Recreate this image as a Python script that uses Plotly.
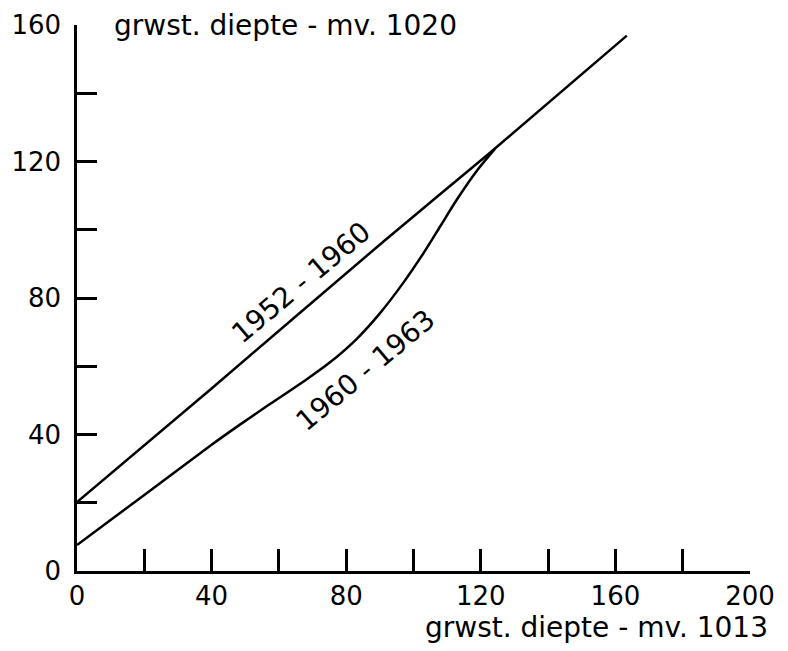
import plotly.graph_objects as go

# 1952 - 1960 relation (grwst. diepte - mv. 1013 vs 1020)
x_1952_1960 = [0, 40, 91, 123, 163.4]
y_1952_1960 = [20.2, 53.5, 96.5, 122.8, 156.9]

# 1960 - 1963 relation
x_1960_1963 = [0, 20, 40, 48, 57, 68, 75, 83, 90, 97, 103, 108, 113, 119, 124.2]
y_1960_1963 = [7.6, 22.3, 37, 42.6, 48.7, 56, 61, 67.9, 75.5, 84.5, 93.2, 101.1, 109, 117.5, 123.7]

x_ticks = [0, 20, 40, 60, 80, 100, 120, 140, 160, 180, 200]
x_tick_labels = ["0", "", "40", "", "80", "", "120", "", "160", "", "200"]
y_ticks = [0, 20, 40, 60, 80, 100, 120, 140, 160]
y_tick_labels = ["0", "", "40", "", "80", "", "120", "", "160"]

FONT = "DejaVu Sans"

fig = go.Figure()
fig.add_trace(go.Scatter(x=x_1952_1960, y=y_1952_1960, mode="lines",
                         line=dict(color="black", width=2.5, shape="spline", smoothing=0.6),
                         showlegend=False, hoverinfo="skip"))
fig.add_trace(go.Scatter(x=x_1960_1963, y=y_1960_1963, mode="lines",
                         line=dict(color="black", width=2.5, shape="spline", smoothing=0.8),
                         showlegend=False, hoverinfo="skip"))

fig.add_annotation(x=66.6, y=84.5, text="1952 - 1960", showarrow=False,
                   textangle=-40, font=dict(family=FONT, size=28, color="black"),
                   xanchor="center", yanchor="middle")
fig.add_annotation(x=85.6, y=58.9, text="1960 - 1963", showarrow=False,
                   textangle=-40, font=dict(family=FONT, size=28, color="black"),
                   xanchor="center", yanchor="middle")

fig.add_annotation(xref="paper", yref="y", x=0.052, y=160, text="grwst. diepte - mv. 1020",
                   showarrow=False, xanchor="left", yanchor="middle",
                   font=dict(family=FONT, size=28, color="black"))
fig.add_annotation(xref="paper", yref="paper", x=1.03, y=-0.104, text="grwst. diepte - mv. 1013",
                   showarrow=False, xanchor="right", yanchor="middle",
                   font=dict(family=FONT, size=28, color="black"))

fig.update_layout(
    width=780, height=643, autosize=False,
    margin=dict(l=69, r=38, t=17, b=80, autoexpand=False),
    paper_bgcolor="white", plot_bgcolor="white",
    font=dict(family=FONT, size=26, color="black"),
    xaxis=dict(range=[0, 200], tickmode="array", tickvals=x_ticks, ticktext=x_tick_labels,
               ticks="inside", ticklen=22, tickwidth=2.5, tickcolor="black",
               showline=True, linecolor="black", linewidth=2.5, automargin=False,
               showgrid=False, zeroline=False, ticklabelstandoff=0,
               tickfont=dict(family=FONT, size=26, color="black")),
    yaxis=dict(range=[0, 160], tickmode="array", tickvals=y_ticks, ticktext=y_tick_labels,
               ticks="inside", ticklen=20, tickwidth=2.5, tickcolor="black",
               showline=True, linecolor="black", linewidth=2.5, automargin=False,
               showgrid=False, zeroline=False, ticklabelstandoff=8,
               tickfont=dict(family=FONT, size=26, color="black")),
)

fig.write_html("out.html")
